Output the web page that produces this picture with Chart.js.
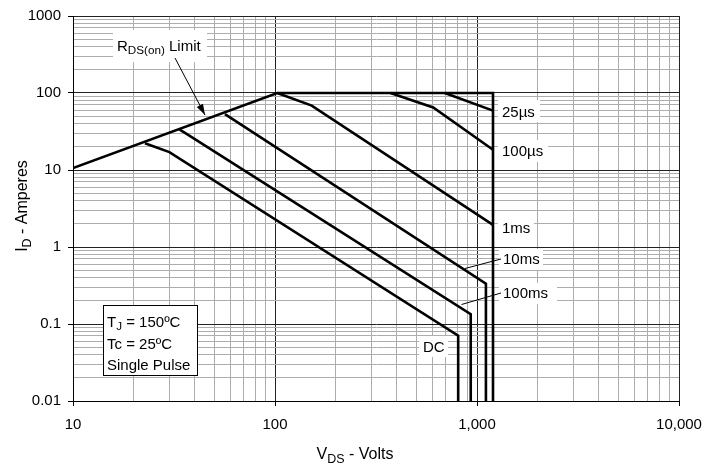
<!DOCTYPE html>
<html>
<head>
<meta charset="utf-8">
<script src="https://cdn.jsdelivr.net/npm/chart.js@4.4.0/dist/chart.umd.min.js"></script>
<style>
  body { margin: 0; background: #fff; }
  #wrap { width: 721px; height: 467px; position: relative; }
</style>
</head>
<body>
<div id="wrap"><canvas id="soa"></canvas></div>
<script>
// axis decades and their labels
const xTicks = [10, 100, 1000, 10000];
const xTickLabels = ["10", "100", "1,000", "10,000"];
const yTicks = [0.01, 0.1, 1, 10, 100, 1000];
const yTickLabels = ["0.01", "0.1", "1", "10", "100", "1000"];

// safe operating area curves, V_DS (volts) vs I_D (amperes)
const limitV = [10, 102.6, 1200, 1200];
const limitI = [10.6, 100, 100, 0.01];
const us25V = [693, 1200];
const us25I = [100, 59];
const us100V = [373, 607, 1200];
const us100I = [100, 65, 18.3];
const ms1V = [102.6, 152, 1200];
const ms1I = [100, 68.6, 1.94];
const ms10V = [56.5, 1107, 1107];
const ms10I = [53.3, 0.334, 0.01];
const ms100V = [33.6, 36.5, 931, 931];
const ms100I = [33.6, 29.4, 0.134, 0.01];
const dcV = [22.7, 30, 807, 807];
const dcI = [22.3, 17.1, 0.0705, 0.01];

const FONT = '"Liberation Sans", Arial, sans-serif';

function pts(xs, ys) {
  return xs.map((v, i) => ({ x: v, y: ys[i] }));
}

function gridValues(decades) {
  const out = [];
  for (let d = 0; d < decades.length - 1; d++) {
    for (let k = 1; k < 10; k++) out.push(decades[d] * k);
  }
  out.push(decades[decades.length - 1]);
  return out;
}

function isMajor(v) {
  const l = Math.log10(v);
  return Math.abs(l - Math.round(l)) < 1e-9;
}

function labelFor(list, labels) {
  return (value) => {
    const i = list.findIndex(t => Math.abs(t - value) / t < 1e-6);
    return i >= 0 ? labels[i] : "";
  };
}

function curve(xs, ys) {
  return {
    data: pts(xs, ys),
    showLine: true,
    borderColor: "#000",
    borderWidth: 2.6,
    pointRadius: 0,
    tension: 0,
    fill: false
  };
}

// text with subscripts: parts = [[text, isSub], ...]
const SUB = 0.78;
function richWidth(ctx, parts, size) {
  let w = 0;
  parts.forEach(p => {
    ctx.font = (p[1] ? size * SUB : size) + "px " + FONT;
    w += ctx.measureText(p[0]).width;
  });
  return w;
}

function drawRich(ctx, parts, x, y, size) {
  let cx = x;
  parts.forEach(p => {
    ctx.font = (p[1] ? size * SUB : size) + "px " + FONT;
    ctx.fillText(p[0], cx, p[1] ? y + size * 0.22 : y);
    cx += ctx.measureText(p[0]).width;
  });
}

const notes = {
  id: "notes",
  beforeDatasetsDraw(chart) {
    const ctx = chart.ctx;
    ctx.save();
    ctx.fillStyle = "#fff";
    // white patches behind curve labels
    [[498, 100, 42, 22], [498, 140, 50, 22], [498, 217, 36, 22],
     [499, 249, 44, 21], [499, 283, 58, 21], [419, 336, 29, 21],
     [113, 30, 94, 32]].forEach(r => ctx.fillRect(r[0], r[1], r[2], r[3]));

    // conditions box
    ctx.fillRect(103.5, 305.5, 94, 70);
    ctx.strokeStyle = "#000";
    ctx.lineWidth = 1;
    ctx.strokeRect(103.5, 305.5, 94, 70);
    ctx.restore();
  },
  afterDatasetsDraw(chart) {
    const ctx = chart.ctx;
    ctx.save();
    ctx.fillStyle = "#000";
    ctx.strokeStyle = "#000";
    ctx.textBaseline = "alphabetic";
    ctx.textAlign = "left";
    ctx.font = "15px " + FONT;
    ctx.fillText("25\u00b5s", 502, 117);
    ctx.fillText("100\u00b5s", 502, 156);
    ctx.fillText("1ms", 502, 233);
    ctx.fillText("10ms", 503, 264);
    ctx.fillText("100ms", 503, 298);
    ctx.fillText("DC", 423, 352);

    // leader lines for 10ms and 100ms
    ctx.lineWidth = 1;
    ctx.beginPath();
    ctx.moveTo(501, 259); ctx.lineTo(465, 268.5);
    ctx.moveTo(501, 293); ctx.lineTo(461.5, 304.5);
    ctx.stroke();

    // R_DS(on) limit label and arrow
    drawRich(ctx, [["R"], ["DS(on)", true], [" Limit"]], 117, 51, 15);
    const ax = 175, ay = 58, bx = 205, by = 115;
    ctx.beginPath();
    ctx.moveTo(ax, ay); ctx.lineTo(bx, by);
    ctx.stroke();
    const ang = Math.atan2(by - ay, bx - ax);
    ctx.beginPath();
    ctx.moveTo(bx, by);
    ctx.lineTo(bx - 11 * Math.cos(ang) + 3.5 * Math.sin(ang), by - 11 * Math.sin(ang) - 3.5 * Math.cos(ang));
    ctx.lineTo(bx - 11 * Math.cos(ang) - 3.5 * Math.sin(ang), by - 11 * Math.sin(ang) + 3.5 * Math.cos(ang));
    ctx.closePath();
    ctx.fill();

    // test conditions
    drawRich(ctx, [["T"], ["J", true], [" = 150\u00baC"]], 107, 327, 15);
    drawRich(ctx, [["Tc = 25\u00baC"]], 107, 349, 15);
    drawRich(ctx, [["Single Pulse"]], 107, 370, 15);

    // axis titles
    const xt = [["V"], ["DS", true], [" - Volts"]];
    drawRich(ctx, xt, 355 - richWidth(ctx, xt, 16) / 2, 459, 16);
    const yt = [["I"], ["D", true], [" - Amperes"]];
    ctx.translate(27, 206);
    ctx.rotate(-Math.PI / 2);
    drawRich(ctx, yt, -richWidth(ctx, yt, 16) / 2, 0, 16);
    ctx.restore();
  }
};

function axis(decades, labels, fit) {
  return {
    type: "logarithmic",
    min: decades[0],
    max: decades[decades.length - 1],
    afterBuildTicks: s => { s.ticks = gridValues(decades).map(v => ({ value: v })); },
    afterFit: fit,
    border: { color: "#000", width: 1 },
    grid: {
      color: c => isMajor(c.tick.value) ? "#222" : "#adadad",
      lineWidth: 1,
      tickLength: 5,
      tickColor: c => isMajor(c.tick.value) ? "#000" : "rgba(0,0,0,0)"
    },
    ticks: {
      autoSkip: false,
      maxRotation: 0,
      color: "#000",
      font: { family: FONT, size: 15 },
      callback: labelFor(decades, labels)
    }
  };
}

const xAxis = axis(xTicks, xTickLabels, s => { s.height = 66; });
xAxis.ticks.padding = 10;
const yAxis = axis(yTicks, yTickLabels, s => { s.width = 73; });
yAxis.ticks.padding = 7;

new Chart(document.getElementById("soa"), {
  type: "scatter",
  data: {
    datasets: [
      curve(limitV, limitI),
      curve(us25V, us25I),
      curve(us100V, us100I),
      curve(ms1V, ms1I),
      curve(ms10V, ms10I),
      curve(ms100V, ms100I),
      curve(dcV, dcI)
    ]
  },
  options: {
    responsive: true,
    maintainAspectRatio: false,
    animation: false,
    layout: { padding: { left: 0, right: 42, top: 13, bottom: 0 } },
    plugins: { legend: { display: false }, tooltip: { enabled: false } },
    scales: { x: xAxis, y: yAxis }
  },
  plugins: [notes]
});
</script>
</body>
</html>
